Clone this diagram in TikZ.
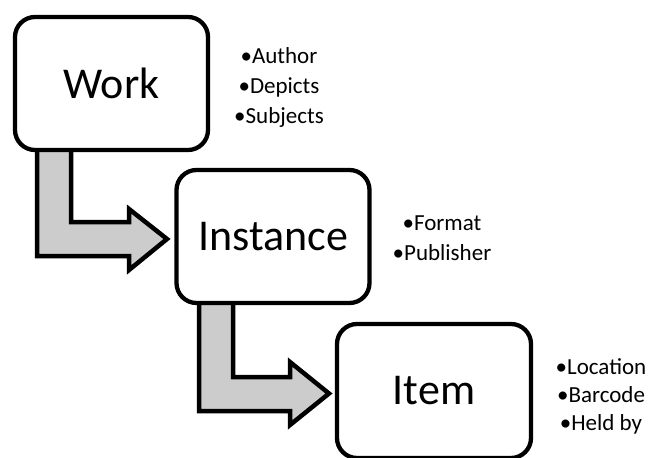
\documentclass[tikz,border=0pt]{standalone}
\usepackage{fontspec}
\setmainfont{Carlito}
\definecolor{arrowgray}{HTML}{CCCCCC}
\begin{document}
\begin{tikzpicture}[x=1pt,y=-1pt,
  box/.style={draw=black, fill=white, line width=4.3pt, rounded corners=20pt,
    minimum width=193pt, minimum height=133pt, inner sep=0pt,
    font=\fontsize{44}{53}\selectfont},
  bentarrow/.style={draw=black, fill=arrowgray, line width=4.5pt, line join=miter},
  props/.style={align=center, inner sep=0pt, font=\fontsize{23}{30}\selectfont}]
\useasboundingbox (0,0) rectangle (652,457);
% boxes (positions)
\coordinate (wc) at (111.5,83.5);
\coordinate (ic) at (273,236.5);
\coordinate (tc) at (434,391);
% arrows drawn first
\draw[bentarrow] (37,148) -- (71,148) -- (71,222) -- (129,222) -- (129,209)
  -- (167,239) -- (129,270) -- (129,256) -- (37,256) -- cycle;
\draw[bentarrow] (199,301) -- (233,301) -- (233,377) -- (290,377) -- (290,362)
  -- (329,393.5) -- (290,425) -- (290,411) -- (199,411) -- cycle;
% boxes
\node[box] (work) at (wc) {Work};
\node[box] (inst) at (ic) {Instance};
\node[box, minimum width=194pt, minimum height=134pt] (item) at (tc) {Item};
% property lists
\node[props] (workprops) at (279,87) {•Author\\•Depicts\\•Subjects};
\node[props] (instprops) at (442,238) {•Format\\•Publisher};
\node[props, font=\fontsize{23}{28}\selectfont] (itemprops) at (601,396) {•Location\\•Barcode\\•Held by};
\end{tikzpicture}
\end{document}
